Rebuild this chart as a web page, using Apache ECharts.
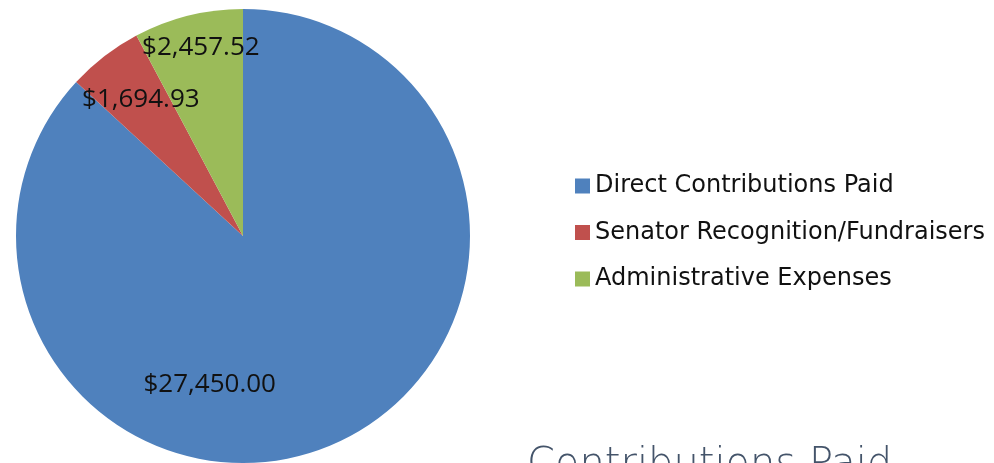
<!DOCTYPE html>
<html>
<head>
<meta charset="utf-8">
<script src="https://cdn.jsdelivr.net/npm/echarts@6/dist/echarts.min.js"></script>
<style>
html,body{margin:0;padding:0;background:#fff;}
#chart{width:994px;height:463px;}
</style>
</head>
<body>
<div id="chart"></div>
<script>
const categories = ['Direct Contributions Paid', 'Senator Recognition/Fundraisers', 'Administrative Expenses'];
const values = [27450.00, 1694.93, 2457.52];
const colors = ['#4f81bd', '#c0504d', '#9bbb59'];
const labelOffsets = [[-80, 42], [-31, -44], [-14, -75]];
const titleText = 'Contributions Paid';

function money(v) {
  return '$' + v.toLocaleString('en-US', {minimumFractionDigits: 2, maximumFractionDigits: 2});
}

function draw() {
  const chart = echarts.init(document.getElementById('chart'));
  chart.setOption({
    animation: false,
    title: {
      text: titleText,
      left: 522,
      top: 441,
      textStyle: {fontFamily: '"DejaVu Sans"', fontWeight: 200, fontSize: 40, color: '#44546a'}
    },
    legend: {
      orient: 'vertical',
      left: 570,
      top: 168,
      itemWidth: 15,
      itemHeight: 15,
      itemGap: 20.5,
      icon: 'rect',
      data: categories,
      textStyle: {fontFamily: '"DejaVu Sans"', fontSize: 24, color: '#111', lineHeight: 26}
    },
    series: [{
      type: 'pie',
      center: [243, 236],
      radius: [0, 227],
      startAngle: 90,
      clockwise: true,
      silent: true,
      itemStyle: {borderWidth: 0},
      label: {
        show: true,
        position: 'inside',
        fontFamily: '"Open Sans"',
        fontSize: 26,
        color: '#111',
        formatter: p => money(p.value)
      },
      labelLine: {show: false},
      data: categories.map((c, i) => ({
        name: c,
        value: values[i],
        itemStyle: {color: colors[i]},
        label: {offset: labelOffsets[i]}
      }))
    }]
  });
}

Promise.all([
  document.fonts.load('200 40px "DejaVu Sans"'),
  document.fonts.load('24px "DejaVu Sans"'),
  document.fonts.load('26px "Open Sans"')
]).then(draw, draw);
</script>
</body>
</html>
